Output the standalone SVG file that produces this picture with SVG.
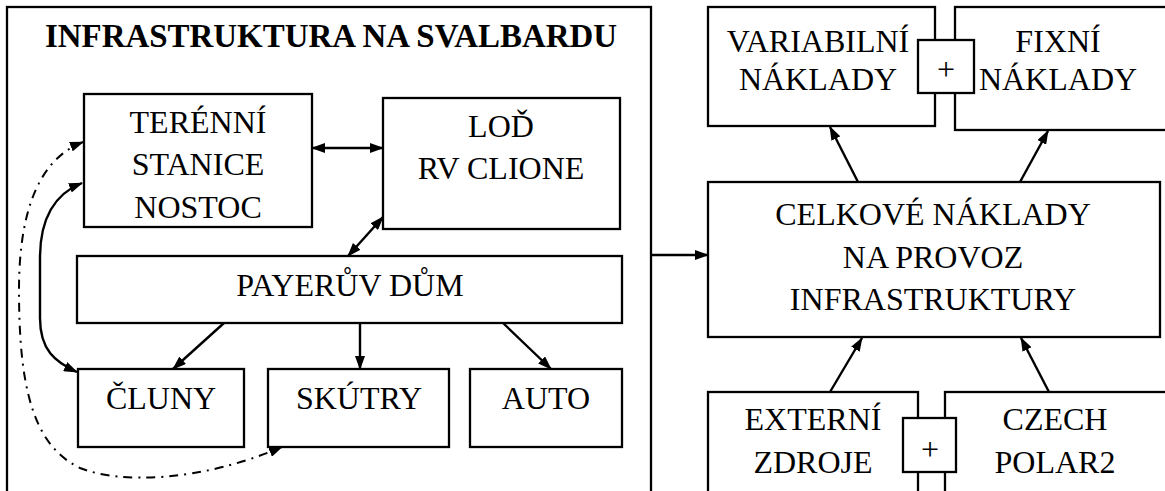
<svg xmlns="http://www.w3.org/2000/svg" width="1165" height="491" viewBox="0 0 1165 491">
<style>
.b{fill:#fff;stroke:#000;stroke-width:2.3}
.t{font-family:"Liberation Serif","Times New Roman",serif;font-size:32px;fill:#000;text-anchor:middle}
.tt{font-family:"Liberation Serif","Times New Roman",serif;font-size:34px;font-weight:bold;fill:#000;text-anchor:middle}
.c{fill:none;stroke:#000;stroke-width:2.4}
.dd{fill:none;stroke:#000;stroke-width:2;stroke-dasharray:9 6 2 6}
</style>
<defs>
<marker id="ah" viewBox="0 0 14 10" refX="13" refY="5" markerWidth="14" markerHeight="10" markerUnits="userSpaceOnUse" orient="auto-start-reverse">
<path d="M0,0 L14,5 L0,10 z" fill="#000"/>
</marker>
</defs>
<rect width="1165" height="491" fill="#fff"/>
<g id="frame">
<rect class="b" x="7" y="7" width="644" height="500"/>
<text class="tt" x="331" y="47" textLength="572" lengthAdjust="spacingAndGlyphs">INFRASTRUKTURA NA SVALBARDU</text>
</g>
<g id="terenni">
<rect class="b" x="84" y="94" width="228" height="133"/>
<text class="t" x="198" y="133">TERÉNNÍ</text>
<text class="t" x="198" y="175">STANICE</text>
<text class="t" x="198" y="218">NOSTOC</text>
</g>
<g id="lod">
<rect class="b" x="383" y="98" width="237" height="131"/>
<text class="t" x="501" y="137">LOĎ</text>
<text class="t" x="501" y="179">RV CLIONE</text>
</g>
<g id="payer">
<rect class="b" x="77" y="256" width="545" height="67"/>
<text class="t" x="350" y="296">PAYERŮV DŮM</text>
</g>
<g id="cluny">
<rect class="b" x="78" y="369" width="166" height="78"/>
<text class="t" x="161" y="409">ČLUNY</text>
</g>
<g id="skutry">
<rect class="b" x="268" y="369" width="181" height="78"/>
<text class="t" x="359" y="409">SKÚTRY</text>
</g>
<g id="auto">
<rect class="b" x="470" y="369" width="152" height="78"/>
<text class="t" x="546" y="409">AUTO</text>
</g>
<g id="variabilni">
<rect class="b" x="708" y="7" width="227" height="119"/>
<text class="t" x="818" y="52">VARIABILNÍ</text>
<text class="t" x="818" y="90">NÁKLADY</text>
</g>
<g id="fixni">
<rect class="b" x="955" y="7" width="230" height="123"/>
<text class="t" x="1058" y="52">FIXNÍ</text>
<text class="t" x="1058" y="90">NÁKLADY</text>
</g>
<g id="plus1">
<rect class="b" x="918" y="40" width="56" height="53"/>
<text class="t" x="946" y="80">+</text>
</g>
<g id="celkove">
<rect class="b" x="708" y="182" width="452" height="155"/>
<text class="t" x="933" y="225">CELKOVÉ NÁKLADY</text>
<text class="t" x="933" y="268">NA PROVOZ</text>
<text class="t" x="933" y="310">INFRASTRUKTURY</text>
</g>
<g id="externi">
<rect class="b" x="708" y="392" width="210" height="120"/>
<text class="t" x="813" y="430">EXTERNÍ</text>
<text class="t" x="813" y="473">ZDROJE</text>
</g>
<g id="czech">
<rect class="b" x="945" y="392" width="240" height="120"/>
<text class="t" x="1055" y="430">CZECH</text>
<text class="t" x="1055" y="473">POLAR2</text>
</g>
<g id="plus2">
<rect class="b" x="903" y="418" width="53" height="54"/>
<text class="t" x="930" y="460">+</text>
</g>
<g id="connectors">
<line class="c" x1="312" y1="148" x2="383" y2="148" marker-start="url(#ah)" marker-end="url(#ah)"/>
<line class="c" x1="348" y1="256" x2="383" y2="217" marker-start="url(#ah)" marker-end="url(#ah)"/>
<line class="c" x1="224" y1="323" x2="173" y2="369" marker-end="url(#ah)"/>
<line class="c" x1="360" y1="323" x2="360" y2="369" marker-end="url(#ah)"/>
<line class="c" x1="503" y1="323" x2="551" y2="369" marker-end="url(#ah)"/>
<line class="c" x1="651" y1="255" x2="708" y2="255" marker-end="url(#ah)"/>
<line class="c" x1="858" y1="182" x2="830" y2="127" marker-end="url(#ah)"/>
<line class="c" x1="1020" y1="182" x2="1048" y2="131" marker-end="url(#ah)"/>
<line class="c" x1="830" y1="392" x2="862" y2="338" marker-end="url(#ah)"/>
<line class="c" x1="1049" y1="392" x2="1021" y2="338" marker-end="url(#ah)"/>
<path class="c" d="M82,183 C52,195 40,222 40,258 L40,318 C40,350 55,362 77,372" marker-start="url(#ah)" marker-end="url(#ah)"/>
<path class="dd" d="M83,142 C42,158 19,205 19,290 C19,385 32,445 80,468 C120,484 200,482 282,447" marker-start="url(#ah)" marker-end="url(#ah)"/>
</g>
</svg>
